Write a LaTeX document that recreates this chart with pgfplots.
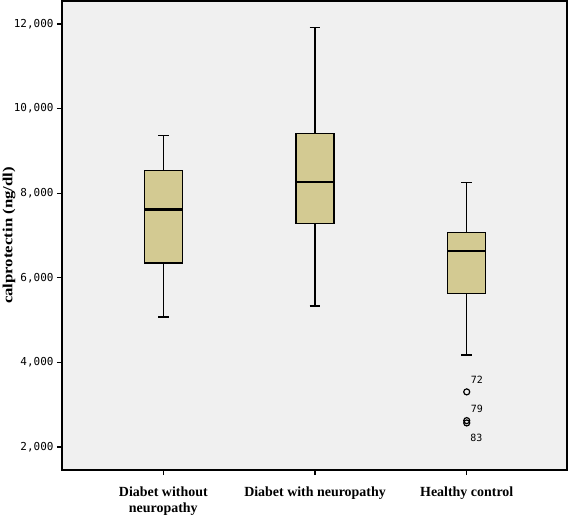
\documentclass[border=0pt]{standalone}
\usepackage{pgfplots}
\pgfplotsset{compat=1.18}
\usepgfplotslibrary{statistics}
\usepackage{fontspec}
\setmainfont{Liberation Serif}
\newfontfamily\tickfont{DejaVu Sans Mono}
\newfontfamily\ylabfont[FakeStretch=1.2]{Liberation Serif}
\definecolor{boxfill}{RGB}{211,202,146}
\definecolor{bg}{RGB}{240,240,240}
\begin{document}
\begin{tikzpicture}
\begin{axis}[
  scale only axis,
  width=505bp, height=469bp,
  xmin=0.332, xmax=3.661,
  ymin=1458, ymax=12542,
  axis background/.style={fill=bg},
  axis line style={line width=1.3bp},
  tick style={line width=1.3bp, black},
  tick align=outside,
  major tick length=5bp,
  xtick={1,2,3},
  xticklabels={Diabet without\\neuropathy, Diabet with neuropathy, Healthy control},
  xticklabel style={align=center, font=\fontsize{14}{16}\selectfont\bfseries, yshift=-8bp},
  ytick={2000,4000,6000,8000,10000,12000},
  scaled y ticks=false,
  yticklabel style={font=\fontsize{11}{12}\tickfont},
  /pgf/number format/.cd, fixed, 1000 sep={,}, assume math mode=true,
  /pgfplots/.cd,
  ylabel={\ylabfont\bfseries calprotectin (ng/dl)},
  ylabel style={at={(axis description cs:-0.105,0.5)}, anchor=center, font=\fontsize{14}{15}\selectfont},
  boxplot/draw direction=y,
  boxplot/every box/.style={draw=black, line width=1.3bp, fill=boxfill},
  boxplot/every whisker/.style={draw=black, line width=1.2bp},
  boxplot/every median/.style={draw=black, line width=2.2bp},
  clip=false,
]
\addplot[boxplot prepared={lower whisker=5073, lower quartile=6347, median=7613, upper quartile=8540, upper whisker=9358, draw position=1, box extend=0.25, whisker extend=0.07}] coordinates {};
\addplot[boxplot prepared={lower whisker=5332, lower quartile=7290, median=8266, upper quartile=9413, upper whisker=11913, draw position=2, box extend=0.25, whisker extend=0.07}] coordinates {};
\addplot[boxplot prepared={lower whisker=4177, lower quartile=5625, median=6630, upper quartile=7078, upper whisker=8250, draw position=3, box extend=0.25, whisker extend=0.07}] coordinates {};
\addplot[only marks, mark=o, mark size=3bp, mark options={line width=1.2bp, black}] coordinates {(3,3304) (3,2625) (3,2570)};
\node[font=\fontsize{10}{10}\tickfont] at (axis cs:3.067,3590) {72};
\node[font=\fontsize{10}{10}\tickfont] at (axis cs:3.067,2905) {79};
\node[font=\fontsize{10}{10}\tickfont] at (axis cs:3.063,2220) {83};
\end{axis}
\pgfresetboundingbox
\useasboundingbox ([xshift=-62bp,yshift=-49bp]current axis.south west) rectangle ([xshift=1bp,yshift=1bp]current axis.north east);
\end{tikzpicture}
\end{document}
